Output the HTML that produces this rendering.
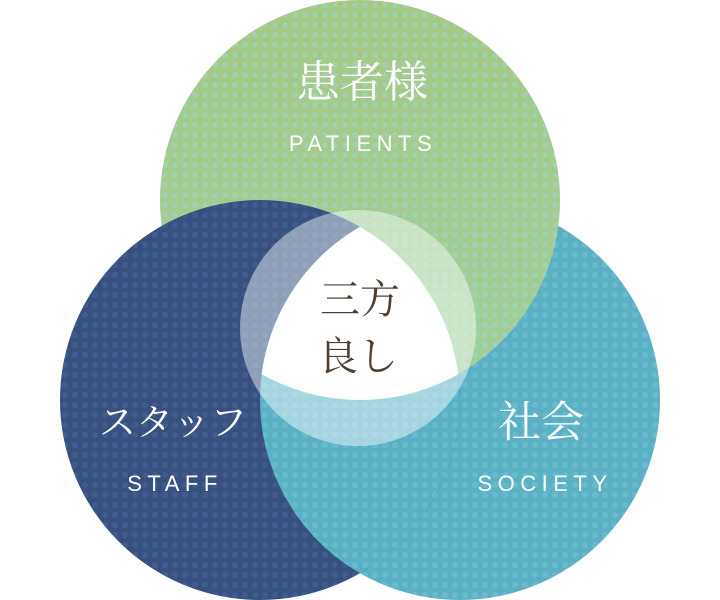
<!DOCTYPE html>
<html><head><meta charset="utf-8"><style>
html,body{margin:0;padding:0;background:#fff;}
svg{display:block}
.j{font-family:"Liberation Serif","Noto Serif CJK SC",serif;}
.e{font-family:"Liberation Sans",sans-serif;letter-spacing:5.5px;}
</style></head><body>
<svg width="720" height="600" viewBox="0 0 720 600" xmlns="http://www.w3.org/2000/svg">
<defs>
<pattern id="dg" width="10" height="10" patternUnits="userSpaceOnUse"><circle cx="5" cy="5" r="2.6" fill="#9cd8d0" opacity="0.55"/></pattern>
<pattern id="dn" width="10" height="10" patternUnits="userSpaceOnUse"><circle cx="5" cy="5" r="3" fill="#4a6a9c" opacity="0.45"/></pattern>
<pattern id="dt" width="10" height="10" patternUnits="userSpaceOnUse"><circle cx="5" cy="5" r="3" fill="#7cc8d6" opacity="0.45"/></pattern>
<linearGradient id="gg" x1="0" y1="0" x2="0" y2="1"><stop offset="0" stop-color="#a5c985"/><stop offset="1" stop-color="#9fcf9c"/></linearGradient>
<clipPath id="cg"><circle cx="360" cy="200" r="200"/></clipPath>
<clipPath id="cn"><circle cx="260" cy="400" r="200"/></clipPath>
</defs>
<circle cx="460" cy="400" r="200" fill="#5ab1c5"/>
<circle cx="460" cy="400" r="200" fill="url(#dt)"/>
<circle cx="360" cy="200" r="200" fill="url(#gg)"/>
<circle cx="360" cy="200" r="200" fill="url(#dg)"/>
<circle cx="260" cy="400" r="200" fill="#36517f"/>
<circle cx="260" cy="400" r="200" fill="url(#dn)"/>
<g clip-path="url(#cn)"><circle cx="460" cy="400" r="200" fill="#5ab1c5"/><circle cx="460" cy="400" r="200" fill="url(#dt)"/></g>
<circle cx="358" cy="328" r="118" fill="#fff" opacity="0.45"/>
<g clip-path="url(#cg)"><g clip-path="url(#cn)"><circle cx="460" cy="400" r="200" fill="#fff"/></g></g>
<text class="j" x="362" y="97" font-size="44" fill="#fff" text-anchor="middle">患者様</text>
<text class="e" x="363" y="151" font-size="22" fill="#fff" text-anchor="middle">PATIENTS</text>
<text class="j" x="173" y="435" font-size="37" fill="#fff" text-anchor="middle">スタッフ</text>
<text class="e" x="175" y="491" font-size="22" fill="#fff" text-anchor="middle">STAFF</text>
<text class="j" x="541" y="437" font-size="43" fill="#fff" text-anchor="middle">社会</text>
<text class="e" x="545" y="491" font-size="22" fill="#fff" text-anchor="middle">SOCIETY</text>
<text class="j" x="360" y="313" font-size="40" fill="#4f3f33" text-anchor="middle">三方</text>
<text class="j" x="358" y="370" font-size="40" fill="#4f3f33" text-anchor="middle">良し</text>
</svg>
</body></html>
